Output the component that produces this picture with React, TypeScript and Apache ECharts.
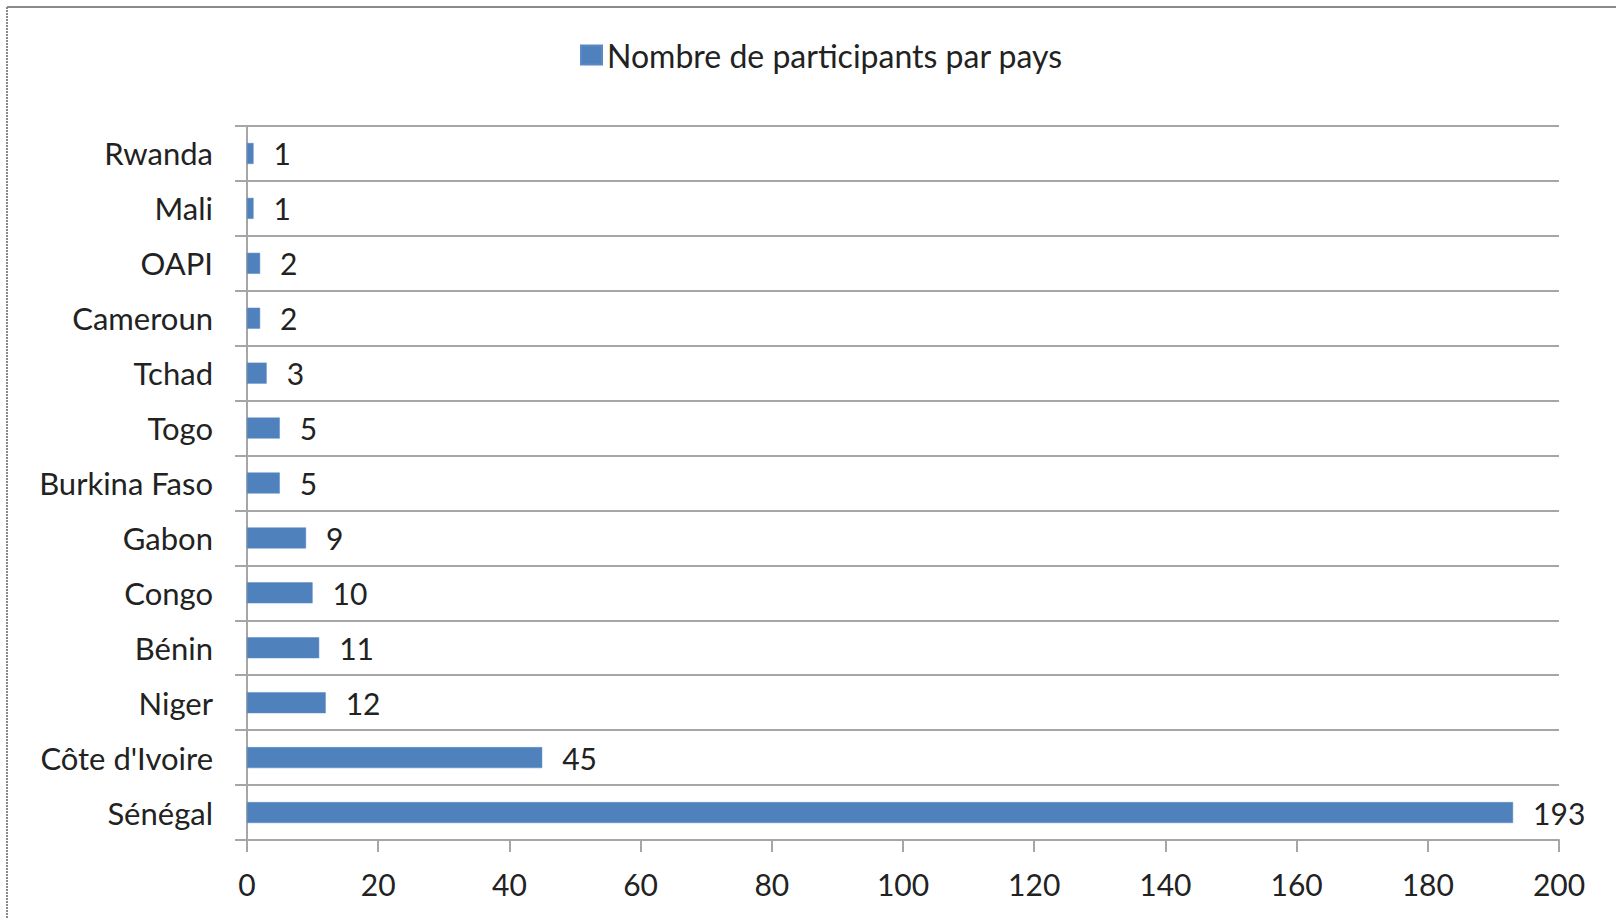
import React, { useEffect, useRef } from "react";
import * as echarts from "echarts";

const categories = [
  "Rwanda",
  "Mali",
  "OAPI",
  "Cameroun",
  "Tchad",
  "Togo",
  "Burkina Faso",
  "Gabon",
  "Congo",
  "Bénin",
  "Niger",
  "Côte d'Ivoire",
  "Sénégal",
];
const participants = [1, 1, 2, 2, 3, 5, 5, 9, 10, 11, 12, 45, 193];
const seriesName = "Nombre de participants par pays";
const xMin = 0;
const xMax = 200;
const xInterval = 20;

const FONT = "Lato, 'Noto Sans', sans-serif";
const TEXT = "#222222";
const GRID = "#a6a6a6";
const BAR = "#4F81BD";

export default function App() {
  const ref = useRef<HTMLDivElement>(null);
  useEffect(() => {
    if (!ref.current) return;
    const chart = echarts.init(ref.current, undefined, { renderer: "svg" });
    chart.setOption({
      animation: false,
      backgroundColor: "#ffffff",
      graphic: [
        {
          type: "line",
          shape: { x1: 7, y1: 7, x2: 1616, y2: 7 },
          style: { stroke: "#8a8a8a", lineWidth: 2 },
        },
        {
          type: "line",
          shape: { x1: 7, y1: 7, x2: 7, y2: 919 },
          style: { stroke: "#8a8a8a", lineWidth: 2, lineDash: [2, 1] },
        },
      ],
      legend: {
        data: [seriesName],
        left: 580,
        top: 39,
        padding: 0,
        itemWidth: 21,
        itemHeight: 19,
        icon: "rect",
        textStyle: {
          fontFamily: FONT,
          fontSize: 32,
          color: TEXT,
          lineHeight: 32,
        },
      },
      grid: { left: 247, top: 126, width: 1312, height: 714, containLabel: false },
      xAxis: {
        type: "value",
        position: "bottom",
        min: xMin,
        max: xMax,
        interval: xInterval,
        axisLine: { show: true, lineStyle: { color: GRID, width: 2 } },
        axisTick: { show: true, length: 12, inside: false, lineStyle: { color: GRID, width: 2 } },
        splitLine: { show: false },
        axisLabel: {
          margin: 29,
          fontFamily: FONT,
          fontSize: 30,
          color: TEXT,
        },
      },
      yAxis: {
        type: "category",
        data: categories,
        inverse: true,
        boundaryGap: true,
        axisLine: { show: true, lineStyle: { color: GRID, width: 2 } },
        axisTick: { show: true, length: 12, alignWithLabel: false, lineStyle: { color: GRID, width: 2 } },
        splitLine: { show: true, lineStyle: { color: GRID, width: 2 } },
        axisLabel: {
          margin: 34,
          fontFamily: FONT,
          fontSize: 31,
          color: TEXT,
        },
      },
      series: [
        {
          name: seriesName,
          type: "bar",
          data: participants,
          barWidth: 21,
          itemStyle: { color: BAR, borderColor: "#5a8ac6", borderWidth: 0.5 },
          label: {
            show: true,
            position: "right",
            distance: 20,
            fontFamily: FONT,
            fontSize: 30,
            color: TEXT,
          },
        },
      ],
    });
    return () => chart.dispose();
  }, []);
  return (
    <div
      ref={ref}
      style={{ position: "fixed", left: 0, top: 0, width: 1616, height: 919, background: "#fff" }}
    />
  );
}
